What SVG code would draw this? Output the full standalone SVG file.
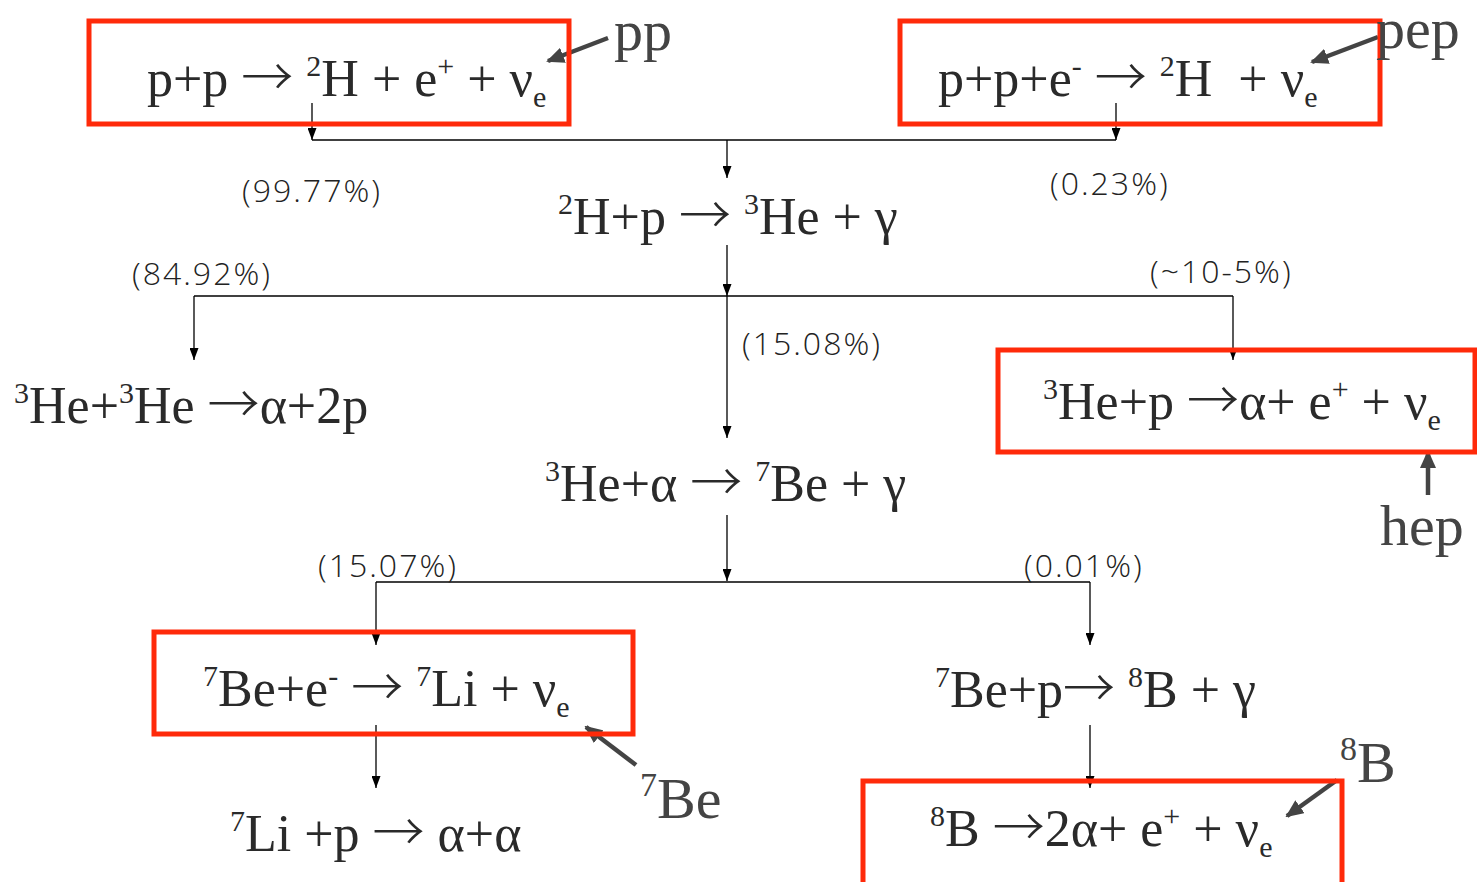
<svg xmlns="http://www.w3.org/2000/svg" width="1477" height="882" viewBox="0 0 1477 882">
<defs>
<style>
.box{fill:none;stroke:#ff2a0a;stroke-width:5}
.eq{font-family:"Liberation Serif","Times New Roman",serif;font-size:52px;fill:#2a2a2a}
.ar{font-family:"Noto Sans CJK JP","DejaVu Sans",sans-serif;font-weight:300}
.sup{font-size:30px}
.sub{font-size:30px}
.pct{font-family:"Open Sans","Liberation Sans",sans-serif;font-weight:300;font-size:32px;letter-spacing:2px;fill:#222}
.lbl{font-family:"Liberation Serif","Times New Roman",serif;font-size:58px;fill:#444}
.con{fill:none;stroke:#000;stroke-width:1.3}
.gr{fill:none;stroke:#444;stroke-width:4.5}
</style>
<marker id="ah" viewBox="0 0 12 9" refX="12" refY="4.5" markerWidth="12" markerHeight="9" markerUnits="userSpaceOnUse" orient="auto"><path d="M0,0 L12,4.5 L0,9 z" fill="#000"/></marker>
<marker id="gh" viewBox="0 0 18 16" refX="16" refY="8" markerWidth="18" markerHeight="16" markerUnits="userSpaceOnUse" orient="auto"><path d="M0,0 L18,8 L0,16 z" fill="#444"/></marker>
</defs>

<g id="connectors">
<path class="con" d="M312,103 V140" marker-end="url(#ah)"/>
<path class="con" d="M312,140 H1116"/>
<path class="con" d="M1116,103 V140" marker-end="url(#ah)"/>
<path class="con" d="M727,140 V178" marker-end="url(#ah)"/>
<path class="con" d="M727,245 V296" marker-end="url(#ah)"/>
<path class="con" d="M194,296 H1233"/>
<path class="con" d="M194,296 V360" marker-end="url(#ah)"/>
<path class="con" d="M1233,296 V360" marker-end="url(#ah)"/>
<path class="con" d="M727,296 V438" marker-end="url(#ah)"/>
<path class="con" d="M727,515 V581" marker-end="url(#ah)"/>
<path class="con" d="M376,582 H1090"/>
<path class="con" d="M376,582 V645" marker-end="url(#ah)"/>
<path class="con" d="M1090,582 V645" marker-end="url(#ah)"/>
<path class="con" d="M376,725 V788" marker-end="url(#ah)"/>
<path class="con" d="M1090,725 V788" marker-end="url(#ah)"/>
<path class="gr" d="M608,38 L548,61" marker-end="url(#gh)"/>
<path class="gr" d="M1378,37 L1312,62" marker-end="url(#gh)"/>
<path class="gr" d="M1428,495 L1428,452" marker-end="url(#gh)"/>
<path class="gr" d="M636,765 L586,727" marker-end="url(#gh)"/>
<path class="gr" d="M1337,780 L1287,816" marker-end="url(#gh)"/>
</g>

<g id="pp">
<rect class="box" x="89" y="21" width="480" height="103"/>
<text class="eq" x="147" y="96">p+p <tspan class="ar">→</tspan> <tspan class="sup" dy="-20">2</tspan><tspan dy="20">H + e</tspan><tspan class="sup" dy="-20">+</tspan><tspan dy="20"> + ν</tspan><tspan class="sub" dy="11">e</tspan></text>
<text class="lbl" x="614" y="50">pp</text>
</g>

<g id="pep">
<rect class="box" x="900" y="21" width="480" height="103"/>
<text class="eq" x="938" y="96">p+p+e<tspan class="sup" dy="-20">-</tspan><tspan dy="20"> </tspan><tspan class="ar">→</tspan> <tspan class="sup" dy="-20">2</tspan><tspan dy="20">H&#160; + ν</tspan><tspan class="sub" dy="11">e</tspan></text>
<text class="lbl" x="1376" y="48">pep</text>
</g>

<g id="h2p">
<text class="eq" x="558" y="234"><tspan class="sup" dy="-20">2</tspan><tspan dy="20">H+p </tspan><tspan class="ar">→</tspan> <tspan class="sup" dy="-20">3</tspan><tspan dy="20">He + γ</tspan></text>
</g>

<g id="he3he3">
<text class="eq" x="14" y="423"><tspan class="sup" dy="-20">3</tspan><tspan dy="20">He+</tspan><tspan class="sup" dy="-20">3</tspan><tspan dy="20">He </tspan><tspan class="ar">→</tspan>α+2p</text>
</g>

<g id="hep">
<rect class="box" x="998" y="350" width="477" height="102"/>
<text class="eq" x="1043" y="419"><tspan class="sup" dy="-20">3</tspan><tspan dy="20">He+p </tspan><tspan class="ar">→</tspan>α+ e<tspan class="sup" dy="-20">+</tspan><tspan dy="20"> + ν</tspan><tspan class="sub" dy="11">e</tspan></text>
<text class="lbl" x="1380" y="545">hep</text>
</g>

<g id="he3he4">
<text class="eq" x="545" y="501"><tspan class="sup" dy="-20">3</tspan><tspan dy="20">He+α </tspan><tspan class="ar">→</tspan> <tspan class="sup" dy="-20">7</tspan><tspan dy="20">Be + γ</tspan></text>
</g>

<g id="be7">
<rect class="box" x="154" y="632" width="479" height="102"/>
<text class="eq" x="203" y="706"><tspan class="sup" dy="-20">7</tspan><tspan dy="20">Be+e</tspan><tspan class="sup" dy="-20">-</tspan><tspan dy="20"> </tspan><tspan class="ar">→</tspan> <tspan class="sup" dy="-20">7</tspan><tspan dy="20">Li + ν</tspan><tspan class="sub" dy="11">e</tspan></text>
<text class="lbl" x="640" y="818"><tspan font-size="34" dy="-22">7</tspan><tspan dy="22">Be</tspan></text>
</g>

<g id="be7p">
<text class="eq" x="935" y="707"><tspan class="sup" dy="-20">7</tspan><tspan dy="20">Be+p</tspan><tspan class="ar">→</tspan> <tspan class="sup" dy="-20">8</tspan><tspan dy="20">B + γ</tspan></text>
</g>

<g id="li7p">
<text class="eq" x="230" y="851"><tspan class="sup" dy="-20">7</tspan><tspan dy="20">Li +p </tspan><tspan class="ar">→</tspan> α+α</text>
</g>

<g id="b8">
<rect class="box" x="863" y="781" width="479" height="110"/>
<text class="eq" x="930" y="846"><tspan class="sup" dy="-20">8</tspan><tspan dy="20">B </tspan><tspan class="ar">→</tspan>2α+ e<tspan class="sup" dy="-20">+</tspan><tspan dy="20"> + ν</tspan><tspan class="sub" dy="11">e</tspan></text>
<text class="lbl" x="1340" y="782"><tspan font-size="34" dy="-22">8</tspan><tspan dy="22">B</tspan></text>
</g>

<g id="percentages">
<text class="pct" x="242" y="202">(99.77%)</text>
<text class="pct" x="1050" y="195">(0.23%)</text>
<text class="pct" x="132" y="285">(84.92%)</text>
<text class="pct" x="1150" y="283">(~10-5%)</text>
<text class="pct" x="742" y="355">(15.08%)</text>
<text class="pct" x="318" y="577">(15.07%)</text>
<text class="pct" x="1024" y="577">(0.01%)</text>
</g>
</svg>
